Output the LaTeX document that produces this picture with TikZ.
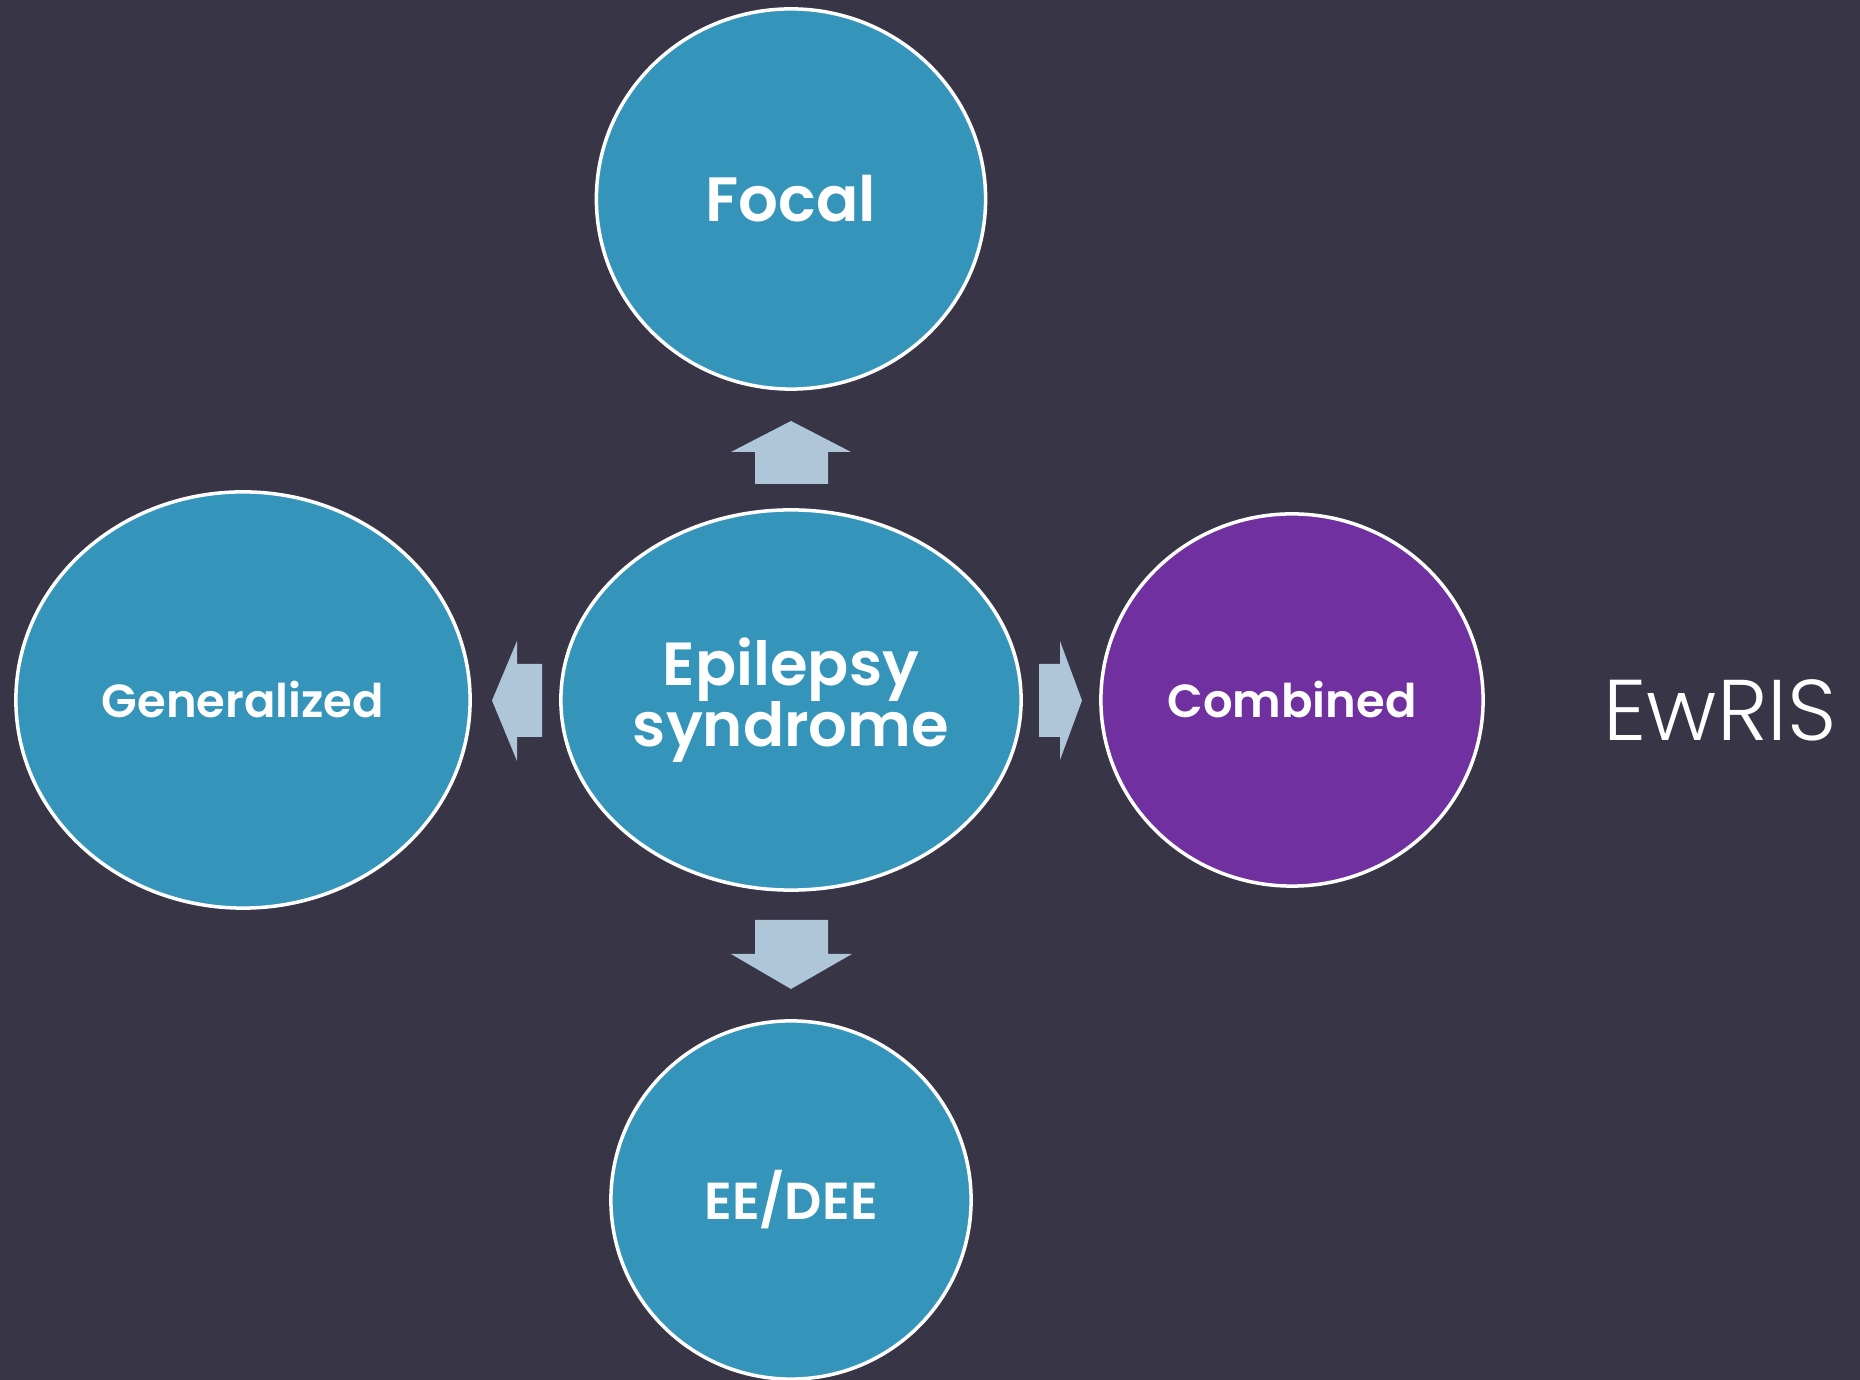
\documentclass[tikz,border=0pt]{standalone}
\usepackage{fontspec}
\setmainfont{Poppins}[BoldFont={Poppins SemiBold}]
\newfontfamily\lightfont{Poppins Light}
\usetikzlibrary{shapes.geometric}

\definecolor{slatebg}{HTML}{383546}
\definecolor{syndteal}{HTML}{3594BA}
\definecolor{combpurple}{HTML}{7030A0}
\definecolor{arrowblue}{HTML}{AEC6D8}

\begin{document}
\begin{tikzpicture}[x=0.01cm, y=-0.01cm,
    bubble/.style={ellipse, draw=white, line width=1pt, fill=syndteal, text=white, inner sep=0pt, align=center},
    blockarrow/.style={fill=arrowblue}]
    % Background
    \fill[slatebg] (0,0) rectangle (1860,1380);
    \useasboundingbox (0,0) rectangle (1860,1380);

    % Centre
    \node[bubble, minimum width=4.6cm, minimum height=3.8cm, font=\bfseries\fontsize{17.3}{17.5}\selectfont] (syndrome) at (791,700) {Epilepsy\\syndrome};

    % Kinds of syndrome
    \node[bubble, minimum width=3.89cm, minimum height=3.8cm, font=\bfseries\fontsize{17.8}{20}\selectfont] (focal) at (791,199) {Focal};
    \node[bubble, minimum width=4.54cm, minimum height=4.16cm, font=\bfseries\fontsize{13.2}{15}\selectfont] (generalized) at (243,700) {Generalized};
    \node[bubble, fill=combpurple, minimum width=3.82cm, minimum height=3.72cm, font=\bfseries\fontsize{13.2}{15}\selectfont] (combined) at (1292,700) {Combined};
    \node[bubble, minimum width=3.6cm, minimum height=3.58cm, font=\bfseries\fontsize{14.8}{17}\selectfont] (dee) at (791,1200) {EE/DEE};

    % Block arrows
    \fill[blockarrow] (755,484) -- (755,452) -- (731,452) -- (791,421) -- (851,452) -- (828,452) -- (828,484) -- cycle;
    \fill[blockarrow] (755,920) -- (828,920) -- (828,954) -- (852,954) -- (791,989) -- (731,954) -- (755,954) -- cycle;
    \fill[blockarrow] (542,664) -- (517,664) -- (517,641) -- (492,700.5) -- (517,761) -- (517,737) -- (542,737) -- cycle;
    \fill[blockarrow] (1039,664) -- (1060,664) -- (1060,641) -- (1082,700.5) -- (1060,760) -- (1060,737) -- (1039,737) -- cycle;

    % Label
    \node[text=white, font=\lightfont\fontsize{24.5}{27}\selectfont, inner sep=0pt] (ewris) at (1720,710) {EwRIS};
\end{tikzpicture}
\end{document}
